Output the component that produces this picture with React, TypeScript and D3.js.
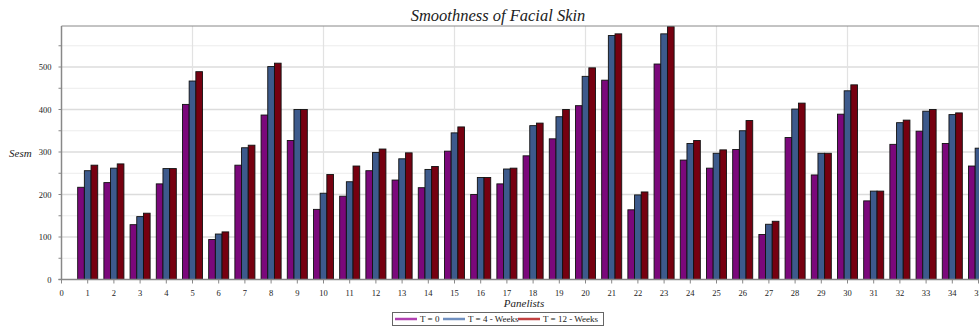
import React, { useEffect, useRef } from "react";
import * as d3 from "d3";

const panelists = d3.range(1, 36);
const t0 = [217, 228, 129, 225, 412, 94, 269, 387, 327, 165, 196, 256, 234, 216, 302, 200, 225, 291, 331, 409, 469, 164, 507, 281, 262, 306, 106, 334, 246, 389, 185, 318, 349, 320, 267];
const t4 = [256, 262, 148, 261, 467, 107, 310, 501, 400, 203, 230, 299, 284, 259, 345, 240, 260, 362, 383, 478, 574, 199, 578, 320, 297, 350, 130, 401, 297, 444, 208, 369, 396, 388, 309];
const t12 = [269, 272, 156, 261, 489, 112, 316, 509, 400, 247, 267, 307, 298, 266, 359, 240, 262, 368, 400, 498, 578, 206, 595, 327, 305, 374, 137, 415, 297, 458, 208, 375, 400, 392, 316];
const seriesNames = ["T = 0", "T = 4 - Weeks", "T = 12 - Weeks"];
const barColors = ["#7b087b", "#3d5a8c", "#760010"];
const legendColors = ["#b040b0", "#7090c0", "#c04040"];
const yTicks = [0, 100, 200, 300, 400, 500];

const App = () => {
  const ref = useRef<SVGSVGElement>(null);

  useEffect(() => {
    const W = 979;
    const H = 327;
    const svg = d3.select(ref.current);
    svg.selectAll("*").remove();

    const left = 61.5;
    const top = 26;
    const bottom = 279.5;
    const step = 26.2;

    const x = d3.scaleLinear().domain([0, 36]).range([left, left + 36 * step]);
    const y = d3.scaleLinear().domain([0, 600]).range([bottom, bottom - 255]);
    const right = x(36);

    // grid
    const g = svg.append("g");
    g.selectAll("line.minor")
      .data(d3.range(50, 600, 100))
      .join("line")
      .attr("x1", left).attr("x2", right)
      .attr("y1", (d) => y(d)).attr("y2", (d) => y(d))
      .attr("stroke", "#ececec").attr("stroke-width", 1);
    g.selectAll("line.major")
      .data(d3.range(100, 600, 100))
      .join("line")
      .attr("x1", left).attr("x2", right)
      .attr("y1", (d) => y(d)).attr("y2", (d) => y(d))
      .attr("stroke", "#dcdcdc").attr("stroke-width", 1.5);
    g.selectAll("line.vert")
      .data([5, 10, 15, 20, 25, 30, 35])
      .join("line")
      .attr("x1", (d) => x(d)).attr("x2", (d) => x(d))
      .attr("y1", top).attr("y2", bottom)
      .attr("stroke", "#e2e2e2").attr("stroke-width", 1.2);

    // bars
    const bw = step * 0.255;
    const series = [t0, t4, t12];
    series.forEach((vals, si) => {
      svg.append("g")
        .selectAll("rect")
        .data(vals)
        .join("rect")
        .attr("x", (d, i) => x(panelists[i]) - 1.5 * bw + si * bw)
        .attr("y", (d) => y(d))
        .attr("width", bw)
        .attr("height", (d) => y(0) - y(d))
        .attr("fill", barColors[si])
        .attr("stroke", "#111")
        .attr("stroke-width", 0.9);
    });

    // frame
    svg.append("line")
      .attr("x1", left).attr("x2", right).attr("y1", top).attr("y2", top)
      .attr("stroke", "#888").attr("stroke-width", 1);
    svg.append("line")
      .attr("x1", left).attr("x2", left).attr("y1", top).attr("y2", bottom)
      .attr("stroke", "#888").attr("stroke-width", 1.5);
    svg.append("line")
      .attr("x1", left - 3).attr("x2", right).attr("y1", bottom).attr("y2", bottom)
      .attr("stroke", "#888").attr("stroke-width", 1.5);

    // y axis ticks
    svg.append("g").selectAll("line")
      .data(d3.range(0, 600, 50))
      .join("line")
      .attr("x1", left - 3).attr("x2", left)
      .attr("y1", (d) => y(d)).attr("y2", (d) => y(d))
      .attr("stroke", "#888");
    svg.append("g").selectAll("text")
      .data(yTicks)
      .join("text")
      .attr("x", left - 10)
      .attr("y", (d) => y(d) + 3)
      .attr("text-anchor", "end")
      .attr("font-family", "Liberation Serif")
      .attr("font-size", 8.5)
      .attr("fill", "#222")
      .text((d) => d);

    // x axis ticks
    const xt = d3.range(0, 37);
    svg.append("g").selectAll("line")
      .data(xt)
      .join("line")
      .attr("x1", (d) => x(d)).attr("x2", (d) => x(d))
      .attr("y1", bottom).attr("y2", bottom + 4)
      .attr("stroke", "#888");
    svg.append("g").selectAll("text")
      .data(xt)
      .join("text")
      .attr("x", (d) => x(d))
      .attr("y", 296)
      .attr("text-anchor", "middle")
      .attr("font-family", "Liberation Serif")
      .attr("font-size", 8.5)
      .attr("fill", "#222")
      .text((d) => d);

    // titles
    svg.append("text")
      .attr("x", 498).attr("y", 21)
      .attr("text-anchor", "middle")
      .attr("font-family", "Liberation Serif")
      .attr("font-style", "italic")
      .attr("font-size", 16.5)
      .attr("fill", "#222")
      .text("Smoothness of Facial Skin");
    svg.append("text")
      .attr("x", 9).attr("y", 157)
      .attr("font-family", "Liberation Serif")
      .attr("font-style", "italic")
      .attr("font-size", 11)
      .attr("fill", "#222")
      .text("Sesm");
    svg.append("text")
      .attr("x", 524).attr("y", 307)
      .attr("text-anchor", "middle")
      .attr("font-family", "Liberation Serif")
      .attr("font-style", "italic")
      .attr("font-size", 11)
      .attr("fill", "#222")
      .text("Panelists");

    // legend
    const lg = svg.append("g");
    lg.append("rect")
      .attr("x", 392.5).attr("y", 312.5).attr("width", 211).attr("height", 13)
      .attr("fill", "#fff").attr("stroke", "#666").attr("stroke-width", 1);
    const itemX = [395, 443, 518];
    seriesNames.forEach((name, i) => {
      lg.append("line")
        .attr("x1", itemX[i]).attr("x2", itemX[i] + 22)
        .attr("y1", 319).attr("y2", 319)
        .attr("stroke", legendColors[i]).attr("stroke-width", 2.5);
      lg.append("text")
        .attr("x", itemX[i] + 25).attr("y", 322)
        .attr("font-family", "Liberation Serif")
        .attr("font-size", 9)
        .attr("fill", "#222")
        .text(name);
    });
  }, []);

  return (
    <svg
      ref={ref}
      width={979}
      height={327}
      style={{ position: "absolute", left: 0, top: 0, background: "#fff" }}
    />
  );
};

export default App;
